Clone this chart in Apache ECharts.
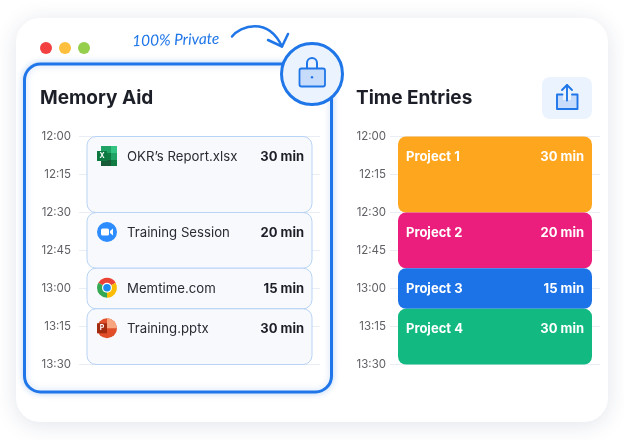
<!DOCTYPE html>
<html>
<head>
<meta charset="utf-8">
<style>
    html, body { margin: 0; padding: 0; background: #fff; }
    #chart { width: 624px; height: 440px; }
</style>
<script src="https://cdn.jsdelivr.net/npm/echarts@6/dist/echarts.min.js"></script>
</head>
<body>
<div id="chart"></div>
<script>
// minutes after 12:00
const tickLabels = ['12:00', '12:15', '12:30', '12:45', '13:00', '13:15', '13:30']
const blockStarts = [0, 30, 52, 68]
const blockEnds = [30, 52, 68, 90]
const durations = ['30 min', '20 min', '15 min', '30 min']
const memoryNames = ['OKR’s Report.xlsx', 'Training Session', 'Memtime.com', 'Training.pptx']
const memoryIcons = ['excel', 'zoom', 'chrome', 'pptx']
const projectNames = ['Project 1', 'Project 2', 'Project 3', 'Project 4']
const projectColors = ['#ffa61f', '#eb1e7d', '#1c73e8', '#12ba82']

const FONT = 'Inter'
const BLUE = '#1f76e8'

function iconShapes(name, cx, cy) {
    if (name === 'excel') {
        return [
            { type: 'rect', shape: { x: cx - 6, y: cy - 10, width: 10, height: 7 }, style: { fill: '#21a366' } },
            { type: 'rect', shape: { x: cx + 4, y: cy - 10, width: 6, height: 7 }, style: { fill: '#33c481' } },
            { type: 'rect', shape: { x: cx - 6, y: cy - 3, width: 10, height: 7 }, style: { fill: '#107c41' } },
            { type: 'rect', shape: { x: cx + 4, y: cy - 3, width: 6, height: 7 }, style: { fill: '#21a366' } },
            { type: 'rect', shape: { x: cx - 6, y: cy + 4, width: 10, height: 6 }, style: { fill: '#185c37' } },
            { type: 'rect', shape: { x: cx + 4, y: cy + 4, width: 6, height: 6 }, style: { fill: '#107c41' } },
            { type: 'rect', shape: { x: cx - 10, y: cy - 5, width: 10, height: 10 }, style: { fill: '#0e7a42' } },
            { type: 'text', style: { x: cx - 5, y: cy, text: 'X', fill: '#fff', font: 'bold 7px ' + FONT, align: 'center', verticalAlign: 'middle' } }
        ]
    }
    if (name === 'zoom') {
        return [
            { type: 'circle', shape: { cx: cx, cy: cy, r: 10 }, style: { fill: '#2d8cff' } },
            { type: 'rect', shape: { x: cx - 6, y: cy - 3.5, width: 8, height: 7, r: 1.5 }, style: { fill: '#fff' } },
            { type: 'polygon', shape: { points: [[cx + 3, cy - 1], [cx + 6, cy - 3.5], [cx + 6, cy + 3.5], [cx + 3, cy + 1]] }, style: { fill: '#fff' } }
        ]
    }
    const deg = Math.PI / 180
    if (name === 'chrome') {
        return [
            { type: 'sector', shape: { cx: cx, cy: cy, r: 10, r0: 0, startAngle: 210 * deg, endAngle: 330 * deg }, style: { fill: '#ea4335' } },
            { type: 'sector', shape: { cx: cx, cy: cy, r: 10, r0: 0, startAngle: -30 * deg, endAngle: 90 * deg }, style: { fill: '#fbbc04' } },
            { type: 'sector', shape: { cx: cx, cy: cy, r: 10, r0: 0, startAngle: 90 * deg, endAngle: 210 * deg }, style: { fill: '#34a853' } },
            { type: 'circle', shape: { cx: cx, cy: cy, r: 5 }, style: { fill: '#fff' } },
            { type: 'circle', shape: { cx: cx, cy: cy, r: 3.8 }, style: { fill: '#1a8cf0' } }
        ]
    }
    return [
        { type: 'circle', shape: { cx: cx, cy: cy, r: 10 }, style: { fill: '#e04f2a' } },
        { type: 'sector', shape: { cx: cx, cy: cy, r: 10, r0: 0, startAngle: -90 * deg, endAngle: 0 }, style: { fill: '#f6a57f' } },
        { type: 'rect', shape: { x: cx - 10, y: cy - 5, width: 10, height: 10 }, style: { fill: '#a32c10' } },
        { type: 'text', style: { x: cx - 5, y: cy, text: 'P', fill: '#fff', font: 'bold 7px ' + FONT, align: 'center', verticalAlign: 'middle' } }
    ]
}

function renderMemory(params, api) {
    const i = params.dataIndex
    const box = params.coordSys
    const top = api.coord([0, api.value(0)])[1]
    const bottom = api.coord([0, api.value(1)])[1]
    const left = box.x + 8
    const right = box.x + box.width - 8
    return {
        type: 'group',
        children: [
            {
                type: 'rect',
                shape: { x: left, y: top, width: right - left, height: bottom - top, r: 9 },
                style: { fill: '#f8f9fc', stroke: '#b7d3f6', lineWidth: 1 }
            },
            { type: 'group', children: iconShapes(memoryIcons[i], left + 20, top + 19.5) },
            {
                type: 'text',
                style: { x: left + 40, y: top + 20.5, text: memoryNames[i], fill: '#2a2c35', font: '13.2px ' + FONT, verticalAlign: 'middle' }
            },
            {
                type: 'text',
                style: { x: right - 8, y: top + 20.5, text: durations[i], fill: '#1d1f28', font: 'bold 13px ' + FONT, align: 'right', verticalAlign: 'middle' }
            }
        ]
    }
}

function renderProject(params, api) {
    const i = params.dataIndex
    const box = params.coordSys
    const top = api.coord([0, api.value(0)])[1]
    const bottom = api.coord([0, api.value(1)])[1]
    const left = box.x + 8
    const right = box.x + box.width - 8
    return {
        type: 'group',
        children: [
            {
                type: 'rect',
                shape: { x: left, y: top, width: right - left, height: bottom - top, r: 8 },
                style: { fill: projectColors[i] }
            },
            {
                type: 'text',
                style: { x: left + 8, y: top + 20.5, text: projectNames[i], fill: '#fff', font: 'bold 13px ' + FONT, verticalAlign: 'middle' }
            },
            {
                type: 'text',
                style: { x: right - 8, y: top + 20.5, text: durations[i], fill: '#fff', font: 'bold 13px ' + FONT, align: 'right', verticalAlign: 'middle' }
            }
        ]
    }
}

function timeAxis(gridIndex, margin) {
    return {
        type: 'value',
        gridIndex: gridIndex,
        inverse: true,
        min: 0,
        max: 90,
        interval: 15,
        axisLine: { show: false },
        axisTick: { show: false },
        splitLine: { show: true, lineStyle: { color: '#e9eef6', width: 1 } },
        axisLabel: {
            margin: margin,
            color: '#5f6166',
            fontFamily: FONT,
            fontSize: 11.5,
            formatter: function (value) {
                return tickLabels[value / 15]
            }
        }
    }
}

const blocks = blockStarts.map(function (start, i) {
    return [start, blockEnds[i]]
})

const chart = echarts.init(document.getElementById('chart'), null, { renderer: 'canvas' })
chart.setOption({
    animation: false,
    backgroundColor: '#fff',
    grid: [
        { left: 79, top: 136.5, width: 241, height: 228 },
        { left: 390, top: 136.5, width: 210, height: 228 }
    ],
    xAxis: [
        { type: 'value', gridIndex: 0, min: 0, max: 1, show: false },
        { type: 'value', gridIndex: 1, min: 0, max: 1, show: false }
    ],
    yAxis: [timeAxis(0, 8), timeAxis(1, 4)],
    series: [
        {
            type: 'custom',
            xAxisIndex: 0,
            yAxisIndex: 0,
            encode: { y: [0, 1] },
            clip: false,
            renderItem: renderMemory,
            data: blocks
        },
        {
            type: 'custom',
            xAxisIndex: 1,
            yAxisIndex: 1,
            encode: { y: [0, 1] },
            clip: false,
            renderItem: renderProject,
            data: blocks
        }
    ],
    graphic: [
        // window card
        {
            type: 'rect',
            z: -10,
            shape: { x: 16, y: 18, width: 592, height: 404, r: 24 },
            style: { fill: '#fff', shadowBlur: 22, shadowColor: 'rgba(30,50,90,0.13)', shadowOffsetY: 3 }
        },
        { type: 'circle', z: -9, shape: { cx: 46, cy: 48, r: 6 }, style: { fill: '#f34141' } },
        { type: 'circle', z: -9, shape: { cx: 65, cy: 48, r: 6 }, style: { fill: '#fdbf3c' } },
        { type: 'circle', z: -9, shape: { cx: 84, cy: 48, r: 6 }, style: { fill: '#96cf4b' } },
        // memory aid outline
        {
            type: 'rect',
            z: -8,
            shape: { x: 24.5, y: 64, width: 307, height: 328, r: 16 },
            style: { fill: '#fff', stroke: BLUE, lineWidth: 3, shadowBlur: 6, shadowColor: 'rgba(31,118,232,0.25)' }
        },
        {
            type: 'text',
            z: 10,
            style: { x: 40, y: 98, text: 'Memory Aid', fill: '#1d1f28', font: 'bold 19px ' + FONT, verticalAlign: 'middle' }
        },
        {
            type: 'text',
            z: 10,
            style: { x: 356, y: 98, text: 'Time Entries', fill: '#1d1f28', font: 'bold 19px ' + FONT, verticalAlign: 'middle' }
        },
        {
            type: 'text',
            z: 10,
            rotation: 0.03,
            originX: 176,
            originY: 40,
            style: { x: 132, y: 40, text: '100% Private', fill: BLUE, font: 'italic 15.5px Lato', verticalAlign: 'middle' }
        },
        // curved arrow
        {
            type: 'bezierCurve',
            z: 10,
            shape: { x1: 232, y1: 36.5, cpx1: 240, cpy1: 26, cpx2: 268, cpy2: 16, x2: 282, y2: 46.5 },
            style: { fill: 'none', stroke: BLUE, lineWidth: 2.5, lineCap: 'round' }
        },
        {
            type: 'polyline',
            z: 10,
            shape: { points: [[268, 40], [282, 46.5], [288, 34]] },
            style: { fill: 'none', stroke: BLUE, lineWidth: 2.5, lineCap: 'round', lineJoin: 'round' }
        },
        // lock badge
        {
            type: 'circle',
            z: 10,
            shape: { cx: 312, cy: 74, r: 30.5 },
            style: { fill: '#ebf3ff', stroke: BLUE, lineWidth: 3 }
        },
        {
            type: 'arc',
            z: 10,
            shape: { cx: 312, cy: 63, r: 5, startAngle: Math.PI, endAngle: 2 * Math.PI },
            style: { fill: 'none', stroke: BLUE, lineWidth: 2 }
        },
        {
            type: 'polyline',
            z: 10,
            shape: { points: [[307, 63], [307, 69]] },
            style: { fill: 'none', stroke: BLUE, lineWidth: 2 }
        },
        {
            type: 'polyline',
            z: 10,
            shape: { points: [[317, 63], [317, 69]] },
            style: { fill: 'none', stroke: BLUE, lineWidth: 2 }
        },
        {
            type: 'rect',
            z: 10,
            shape: { x: 299.5, y: 68.5, width: 25.5, height: 18, r: 2 },
            style: { fill: '#c6dcfa', stroke: BLUE, lineWidth: 1.8 }
        },
        { type: 'circle', z: 10, shape: { cx: 312, cy: 77.3, r: 1.2 }, style: { fill: BLUE } },
        // share button
        {
            type: 'rect',
            z: 10,
            shape: { x: 542, y: 77, width: 50, height: 42, r: 8 },
            style: { fill: '#ebf3ff' }
        },
        {
            type: 'polygon',
            z: 10,
            shape: { points: [[563, 94.5], [557, 94.5], [557, 109], [577.5, 109], [577.5, 94.5], [571, 94.5], [571, 100], [563, 100]] },
            style: { fill: '#c6dcfa' }
        },
        {
            type: 'polyline',
            z: 10,
            shape: { points: [[562.5, 94.5], [557, 94.5], [557, 109], [577.5, 109], [577.5, 94.5], [572, 94.5]] },
            style: { fill: 'none', stroke: BLUE, lineWidth: 1.9, lineJoin: 'round', lineCap: 'round' }
        },
        {
            type: 'polyline',
            z: 10,
            shape: { points: [[567, 100.5], [567, 85]] },
            style: { fill: 'none', stroke: BLUE, lineWidth: 1.9, lineCap: 'round' }
        },
        {
            type: 'polyline',
            z: 10,
            shape: { points: [[562, 90], [567, 85], [572, 90]] },
            style: { fill: 'none', stroke: BLUE, lineWidth: 1.9, lineJoin: 'round', lineCap: 'round' }
        }
    ]
})
</script>
</body>
</html>
